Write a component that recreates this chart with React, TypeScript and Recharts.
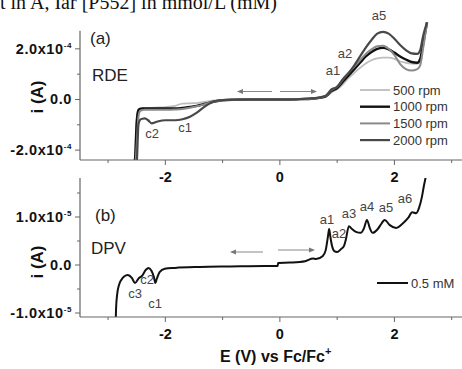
import React from 'react';
import { LineChart, Line, XAxis, YAxis, ReferenceLine } from 'recharts';

const FONT = '"Liberation Sans", Arial, Helvetica, sans-serif';

// ---------- Panel (a): RDE, E in V vs Fc/Fc+, i in units of 1e-4 A ----------
const rdeE = [-2.56, -2.53, -2.5, -2.47, -2.44, -2.4, -2.36, -2.3, -2.24, -2.15, -2.0, -1.83, -1.7, -1.57, -1.45, -1.3, -1.14, -1.0, -0.8, -0.5, -0.2, 0.0, 0.3,
  0.6, 0.8, 0.9, 1.0, 1.1, 1.2, 1.3, 1.4, 1.5, 1.6, 1.7, 1.8, 1.9, 2.0, 2.1, 2.2, 2.3, 2.4, 2.45, 2.5, 2.57];
const rde500 = [-2.7, -2.2, -0.8, -0.4, -0.36, -0.35, -0.35, -0.34, -0.33, -0.32, -0.3, -0.25, -0.16, -0.15, -0.14, -0.09, -0.04, -0.02, -0.01, 0, 0, 0, 0.01,
  0.03, 0.1, 0.28, 0.4, 0.6, 0.85, 1.05, 1.25, 1.42, 1.55, 1.62, 1.65, 1.65, 1.6, 1.5, 1.45, 1.42, 1.41, 1.55, 2.1, 3.05];
const rde1000 = [-2.7, -2.4, -0.9, -0.42, -0.37, -0.35, -0.35, -0.35, -0.35, -0.35, -0.35, -0.35, -0.33, -0.29, -0.25, -0.17, -0.08, -0.03, -0.01, 0, 0, 0, 0.01,
  0.04, 0.12, 0.33, 0.45, 0.7, 0.95, 1.2, 1.45, 1.7, 1.88, 2.0, 2.04, 1.98, 1.85, 1.7, 1.58, 1.48, 1.45, 1.6, 2.2, 3.05];
const rde1500 = [-2.7, -2.7, -1.8, -0.7, -0.45, -0.42, -0.41, -0.41, -0.41, -0.41, -0.41, -0.4, -0.38, -0.33, -0.27, -0.18, -0.08, -0.03, -0.01, 0, 0, 0, 0.01,
  0.04, 0.14, 0.38, 0.5, 0.78, 1.05, 1.3, 1.55, 1.8, 1.98, 2.1, 2.12, 2.0, 1.75, 1.4, 1.2, 1.14, 1.2, 1.35, 2.0, 3.05];
const rde2000 = [-2.7, -2.7, -2.5, -1.0, -0.8, -0.76, -0.75, -0.82, -0.94, -0.88, -0.82, -0.82, -0.78, -0.68, -0.52, -0.26, -0.07, -0.02, -0.01, 0, 0, 0, 0.01,
  0.05, 0.15, 0.4, 0.5, 0.8, 1.05, 1.35, 1.7, 2.05, 2.35, 2.6, 2.67, 2.6, 2.4, 2.15, 1.95, 1.82, 1.8, 1.95, 2.5, 3.05];

const rdeSeries = [
  { key: 's500', name: '500 rpm', values: rde500, color: '#bdbdbd', width: 1.8 },
  { key: 's1000', name: '1000 rpm', values: rde1000, color: '#111111', width: 2.4 },
  { key: 's1500', name: '1500 rpm', values: rde1500, color: '#8a8a8a', width: 2.0 },
  { key: 's2000', name: '2000 rpm', values: rde2000, color: '#484848', width: 2.2 },
];

const rdeYMajor = [-2, 0, 2];
const rdeYLabels = ['-2.0x10', '0.0', '2.0x10'];
const rdeYSup = ['-4', '', '-4'];
const rdeYMinor = [-1, 1];

// ---------- Panel (b): DPV, i in units of 1e-5 A ----------
const dpvE = [-2.87, -2.86, -2.84, -2.81, -2.77, -2.72, -2.655, -2.585, -2.53, -2.46, -2.41, -2.34, -2.29, -2.24, -2.2, -2.175, -2.15, -2.1, -2.01, -1.83, -1.4, -0.87, -0.26, -0.04, -0.03,
  0.175, 0.44, 0.58, 0.63, 0.75, 0.8, 0.84, 0.86, 0.88, 0.91, 0.95, 1.0, 1.065, 1.12, 1.15, 1.205, 1.26, 1.33, 1.41, 1.47, 1.52, 1.57, 1.62, 1.71, 1.78, 1.83, 1.92, 2.03, 2.13, 2.24, 2.31, 2.38, 2.43, 2.48, 2.515, 2.55];
const dpvI = [-1.3, -0.9, -0.6, -0.42, -0.31, -0.24, -0.21, -0.27, -0.375, -0.27, -0.23, -0.1, -0.06, -0.125, -0.25, -0.375, -0.29, -0.15, -0.08, -0.06, -0.04, -0.03, -0.02, -0.02, 0.04,
  0.05, 0.08, 0.135, 0.125, 0.19, 0.31, 0.6, 0.75, 0.6, 0.4, 0.29, 0.27, 0.33, 0.4, 0.52, 0.81, 0.75, 0.69, 0.67, 0.77, 0.94, 0.77, 0.67, 0.75, 0.875, 0.94, 0.83, 0.77, 0.85, 0.98, 1.1, 1.08, 1.19, 1.42, 1.65, 1.85];

const dpvYMajor = [-1, 0, 1];
const dpvYLabels = ['-1.0x10', '0.0', '1.0x10'];
const dpvYSup = ['-5', '', '-5'];
const dpvYMinor = [-0.5, 0.5, 1.5];

// ---------- shared x axis ----------
const xMajor = [-2, 0, 2];
const xLabels = ['-2', '0', '2'];
const xMinor = [-3, -1, 1, 3];
const xDomain: [number, number] = [-3.49, 3.18];

const rdeAnnot = [
  { t: 'a5', x: 379, y: 15 }, { t: 'a2', x: 345, y: 53 }, { t: 'a1', x: 333, y: 70 },
  { t: 'c2', x: 152, y: 133 }, { t: 'c1', x: 185, y: 127 },
];
const dpvAnnot = [
  { t: 'c3', x: 135, y: 293 }, { t: 'c2', x: 147, y: 279 }, { t: 'c1', x: 155, y: 303 },
  { t: 'a1', x: 327, y: 219 }, { t: 'a2', x: 339, y: 233 }, { t: 'a3', x: 349, y: 213 },
  { t: 'a4', x: 367, y: 206 }, { t: 'a5', x: 386, y: 207 }, { t: 'a6', x: 405, y: 198 },
];

const rdeData = rdeE.map((e, i) => {
  const row: any = { x: e };
  rdeSeries.forEach((s) => { row[s.key] = s.values[i]; });
  return row;
});
const dpvData = dpvE.map((e, i) => ({ x: e, v: dpvI[i] }));

const AXIS = '#666';

function makeYTick(major: number[], labels: string[], sups: string[]) {
  return (props: any) => {
    const { x, y, payload } = props;
    const idx = major.indexOf(payload.value);
    const isMajor = idx >= 0;
    return (
      <g>
        <line x1={x - (isMajor ? 5 : 3)} x2={x} y1={y} y2={y} stroke={AXIS} strokeWidth={1} />
        {isMajor && (
          <text x={x - 8} y={y + 5} textAnchor="end" fontFamily={FONT} fontWeight="bold" fontSize={14.5} fill="#111" letterSpacing={0.6}>
            {labels[idx]}
            {sups[idx] ? <tspan dy={-6} fontSize={8}>{sups[idx]}</tspan> : null}
          </text>
        )}
      </g>
    );
  };
}

function XTick(props: any) {
  const { x, y, payload } = props;
  const idx = xMajor.indexOf(payload.value);
  const isMajor = idx >= 0;
  return (
    <g>
      <line x1={x} x2={x} y1={y} y2={y + (isMajor ? 5 : 3)} stroke={AXIS} strokeWidth={1} />
      {isMajor && (
        <text x={x} y={y + 22} textAnchor="middle" fontFamily={FONT} fontWeight="bold" fontSize={14.5} fill="#111">
          {xLabels[idx]}
        </text>
      )}
    </g>
  );
}

const rdeYTick = makeYTick(rdeYMajor, rdeYLabels, rdeYSup);
const dpvYTick = makeYTick(dpvYMajor, dpvYLabels, dpvYSup);

function Arrow({ x1, x2, y }: { x1: number; x2: number; y: number }) {
  const dir = x2 > x1 ? 1 : -1;
  return (
    <g>
      <line x1={x1} x2={x2 - dir * 4} y1={y} y2={y} stroke="#888" strokeWidth={1} />
      <polygon points={`${x2},${y} ${x2 - dir * 6},${y - 2.5} ${x2 - dir * 6},${y + 2.5}`} fill="#777" />
    </g>
  );
}

export default function App() {
  return (
    <div style={{ position: 'absolute', left: 0, top: 0, width: 462, height: 369, background: '#fff', overflow: 'hidden' }}>
      <div style={{ position: 'absolute', left: 0, top: 0 }}>
        <LineChart width={462} height={185} data={rdeData} margin={{ top: 22, right: 0, bottom: 0, left: 0 }}>
          <XAxis type="number" dataKey="x" domain={xDomain} allowDataOverflow ticks={[...xMinor, ...xMajor].sort((a, b) => a - b)}
            interval={0} tickSize={0} tickMargin={0} tick={XTick} height={25} stroke={AXIS} strokeWidth={1.2} />
          <YAxis type="number" domain={[-2.39, 3.06]} allowDataOverflow ticks={[...rdeYMinor, ...rdeYMajor].sort((a, b) => a - b)}
            interval={0} tickSize={0} tickMargin={0} tick={rdeYTick} width={80} axisLine={false} />
          <ReferenceLine segment={[{ x: -3.49, y: -2.39 }, { x: -3.49, y: 2.71 }]} stroke={AXIS} strokeWidth={1.2} ifOverflow="visible" />
          {rdeSeries.map((s) => (
            <Line key={s.key} dataKey={s.key} type="monotone" stroke={s.color} strokeWidth={s.width} dot={false} isAnimationActive={false} />
          ))}
        </LineChart>
      </div>
      <div style={{ position: 'absolute', left: 0, top: 178 }}>
        <LineChart width={462} height={191} data={dpvData} margin={{ top: 0, right: 0, bottom: 0, left: 0 }}>
          <XAxis type="number" dataKey="x" domain={xDomain} allowDataOverflow ticks={[...xMinor, ...xMajor].sort((a, b) => a - b)}
            interval={0} tickSize={0} tickMargin={0} tick={XTick} height={52} stroke={AXIS} strokeWidth={1.2} />
          <YAxis type="number" domain={[-1.083, 1.8125]} allowDataOverflow ticks={[...dpvYMinor, ...dpvYMajor].sort((a, b) => a - b)}
            interval={0} tickSize={0} tickMargin={0} tick={dpvYTick} width={80} stroke={AXIS} strokeWidth={1.2} />
          <Line dataKey="v" type="monotone" stroke="#111" strokeWidth={2} dot={false} isAnimationActive={false} />
        </LineChart>
      </div>
      <svg width={462} height={369} style={{ position: 'absolute', left: 0, top: 0, pointerEvents: 'none' }}>
        <text x={0} y={9} fontFamily='"Liberation Serif", "Times New Roman", serif' fontSize={20} fill="#111">
          t in A, Iar [P552] in mmol/L (mM)
        </text>
        <g fontFamily={FONT} fontWeight="bold" fontSize={17} fill="#111">
          <text transform="translate(37,97) rotate(-90)" textAnchor="middle" dominantBaseline="central">i (A)</text>
          <text transform="translate(37,262) rotate(-90)" textAnchor="middle" dominantBaseline="central">i (A)</text>
        </g>
        <text x={220} y={362} fontFamily={FONT} fontWeight="bold" fontSize={16} fill="#111">
          E (V) vs Fc/Fc<tspan dy={-7} fontSize={11}>+</tspan>
        </text>
        <g fontFamily={FONT} fontSize={17} fill="#222">
          <text x={90} y={44}>(a)</text>
          <text x={92} y={81}>RDE</text>
          <text x={95} y={221}>(b)</text>
          <text x={91} y={254}>DPV</text>
        </g>
        <g fontFamily={FONT} fontSize={13} fill="#444" textAnchor="middle" dominantBaseline="central">
          {rdeAnnot.map((a, i) => <text key={'r' + i} x={a.x} y={a.y}>{a.t}</text>)}
          {dpvAnnot.map((a, i) => <text key={'d' + i} x={a.x} y={a.y}>{a.t}</text>)}
        </g>
        <Arrow x1={272} x2={237} y={91.5} />
        <Arrow x1={280} x2={317} y={91.5} />
        <Arrow x1={263} x2={230} y={252} />
        <Arrow x1={278} x2={315} y={250} />
        <g fontFamily={FONT} fontSize={13} fill="#333" dominantBaseline="central">
          {rdeSeries.map((s, i) => (
            <g key={s.key}>
              <line x1={360} x2={390} y1={90 + i * 16.7} y2={90 + i * 16.7} stroke={s.color} strokeWidth={s.width} />
              <text x={393} y={90 + i * 16.7}>{s.name}</text>
            </g>
          ))}
          <line x1={377} x2={408} y1={283} y2={283} stroke="#111" strokeWidth={2} />
          <text x={411} y={283}>0.5 mM</text>
        </g>
      </svg>
    </div>
  );
}
